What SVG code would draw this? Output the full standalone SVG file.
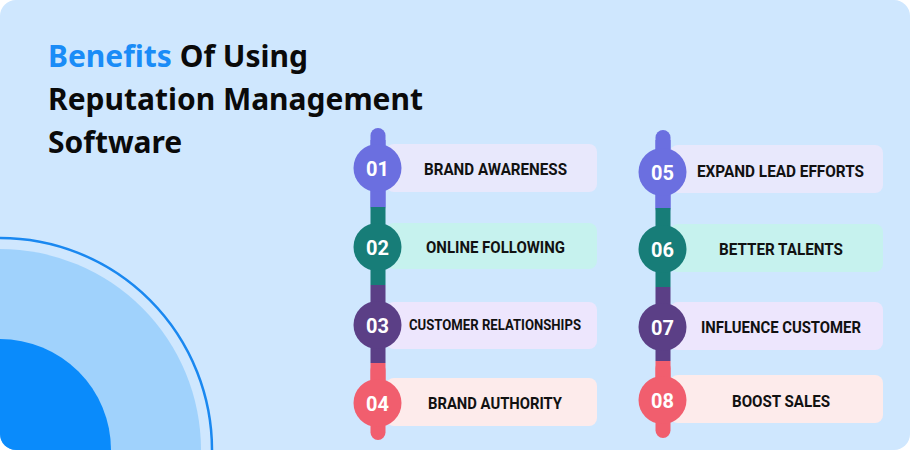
<svg xmlns="http://www.w3.org/2000/svg" width="910" height="450" viewBox="0 0 910 450">
<defs>
<clipPath id="bgclip"><rect x="0" y="0" width="910" height="450" rx="16"/></clipPath>
<style>
.title{font-family:"Noto Sans","Open Sans",sans-serif;font-weight:700;font-size:30px;fill:#0a0a0a}
.lbl{font-family:Roboto,"Liberation Sans",sans-serif;font-weight:700;font-size:16px;fill:#111;text-anchor:middle}
.num{font-family:Roboto,"Liberation Sans",sans-serif;font-weight:700;font-size:20px;fill:#fff;text-anchor:middle}
.c1{fill:#6b6fe0}.c2{fill:#177d78}.c3{fill:#5b3f86}.c4{fill:#f15e6e}
.k1{fill:#e8e8fc}.k2{fill:#c6f2ee}.k3{fill:#ede6fd}.k4{fill:#fdebeb}
</style>
</defs>
<rect x="0" y="0" width="910" height="450" fill="#ffffff"/>
<rect x="0" y="0" width="910" height="450" rx="16" fill="#cfe7fe"/>
<g clip-path="url(#bgclip)">
<circle cx="0" cy="450" r="212" fill="none" stroke="#1a88f0" stroke-width="2.5"/>
<circle cx="0" cy="450" r="201" fill="#a0d2fc"/>
<circle cx="0" cy="450" r="111" fill="#0a8bfb"/>
</g>
<g id="title">
<text class="title" x="48" y="67"><tspan fill="#1a8cf7">Benefits</tspan> Of Using</text>
<text class="title" x="48" y="110" textLength="375" lengthAdjust="spacingAndGlyphs">Reputation Management</text>
<text class="title" x="48" y="153">Software</text>
</g>
<g id="connectors">
<rect class="c1" x="370.5" y="128" width="15" height="86" rx="7.5"/>
<rect class="c1" x="370.5" y="140" width="15" height="67"/>
<rect class="c2" x="370.5" y="207" width="15" height="78"/>
<rect class="c3" x="370.5" y="285" width="15" height="78"/>
<rect class="c4" x="370.5" y="363" width="15" height="77" rx="7.5"/>
<rect class="c4" x="370.5" y="363" width="15" height="60"/>
<rect class="c1" x="655.5" y="130" width="15" height="86" rx="7.5"/>
<rect class="c1" x="655.5" y="140" width="15" height="68"/>
<rect class="c2" x="655.5" y="208" width="15" height="79"/>
<rect class="c3" x="655.5" y="287" width="15" height="74"/>
<rect class="c4" x="655.5" y="361" width="15" height="77" rx="7.5"/>
<rect class="c4" x="655.5" y="361" width="15" height="60"/>
</g>
<g id="n01"><rect class="k1" x="386" y="144" width="211" height="48" rx="8"/><circle class="c1" cx="377.5" cy="168" r="24"/><text class="num" x="377.5" y="175.5">01</text><text class="lbl" x="495.5" y="175" textLength="143" lengthAdjust="spacingAndGlyphs">BRAND AWARENESS</text></g>
<g id="n02"><rect class="k2" x="386" y="223" width="211" height="46" rx="8"/><circle class="c2" cx="377.5" cy="247" r="24"/><text class="num" x="377.5" y="254.5">02</text><text class="lbl" x="495.5" y="253" textLength="139" lengthAdjust="spacingAndGlyphs">ONLINE FOLLOWING</text></g>
<g id="n03"><rect class="k3" x="386" y="302" width="211" height="47" rx="8"/><circle class="c3" cx="377.5" cy="325" r="24"/><text class="num" x="377.5" y="332.5">03</text><text class="lbl" x="495" y="330" style="font-size:14px" textLength="172" lengthAdjust="spacingAndGlyphs">CUSTOMER RELATIONSHIPS</text></g>
<g id="n04"><rect class="k4" x="386" y="378" width="211" height="48" rx="8"/><circle class="c4" cx="377.5" cy="403" r="24"/><text class="num" x="377.5" y="410.5">04</text><text class="lbl" x="495" y="409" textLength="134" lengthAdjust="spacingAndGlyphs">BRAND AUTHORITY</text></g>
<g id="n05"><rect class="k1" x="670" y="145" width="213" height="48" rx="8"/><circle class="c1" cx="662.5" cy="172" r="24"/><text class="num" x="662.5" y="179.5">05</text><text class="lbl" x="780.5" y="177" textLength="167" lengthAdjust="spacingAndGlyphs">EXPAND LEAD EFFORTS</text></g>
<g id="n06"><rect class="k2" x="670" y="224" width="213" height="48" rx="8"/><circle class="c2" cx="662.5" cy="249" r="24"/><text class="num" x="662.5" y="256.5">06</text><text class="lbl" x="781" y="255" textLength="124" lengthAdjust="spacingAndGlyphs">BETTER TALENTS</text></g>
<g id="n07"><rect class="k3" x="670" y="302" width="213" height="48" rx="8"/><circle class="c3" cx="662.5" cy="327" r="24"/><text class="num" x="662.5" y="334.5">07</text><text class="lbl" x="781" y="333" textLength="160" lengthAdjust="spacingAndGlyphs">INFLUENCE CUSTOMER</text></g>
<g id="n08"><rect class="k4" x="670" y="375" width="213" height="48" rx="8"/><circle class="c4" cx="662.5" cy="400" r="24"/><text class="num" x="662.5" y="407.5">08</text><text class="lbl" x="781" y="407" textLength="98" lengthAdjust="spacingAndGlyphs">BOOST SALES</text></g>
</svg>
